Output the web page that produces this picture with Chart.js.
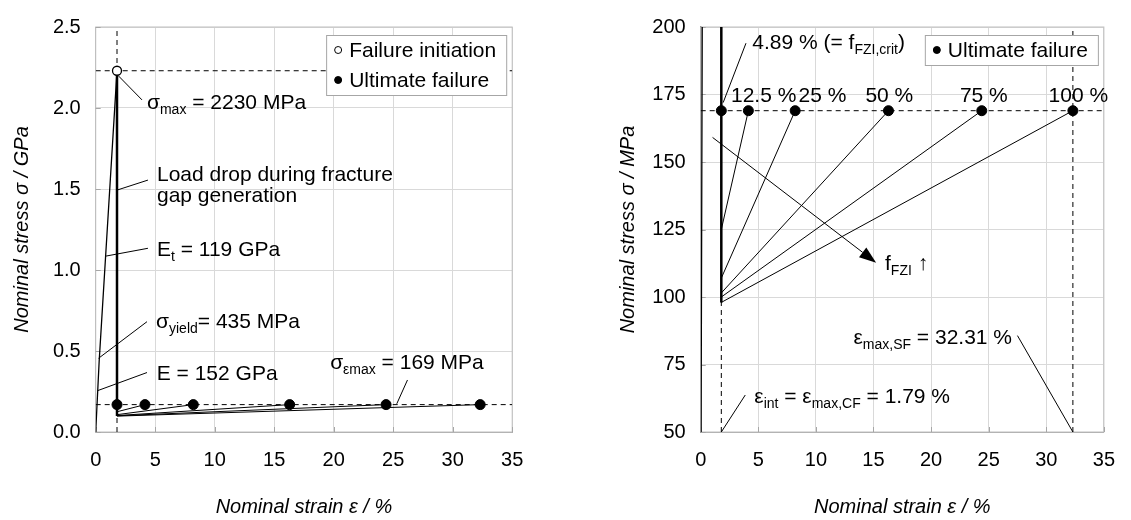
<!DOCTYPE html>
<html>
<head>
<meta charset="utf-8">
<script src="https://cdn.jsdelivr.net/npm/chart.js@4.4.0/dist/chart.umd.min.js"></script>
<style>
  html, body { margin: 0; padding: 0; background: #fff; }
  body { width: 1131px; height: 520px; position: relative; overflow: hidden; }
  #leftChart { position: absolute; left: 0; top: 0; }
  #rightChart { position: absolute; left: 600px; top: 0; }
</style>
</head>
<body>
<canvas id="leftChart" width="565" height="520"></canvas>
<canvas id="rightChart" width="531" height="520"></canvas>
<script>
// values (strain in %, stress in MPa)
const strainInit = 1.79;
const strainMaxSF = 32.31;
const stressMax = 2230;
const stressUlt = 169;
const elasticStrain = [0, 0.29, 1.79];
const elasticStress = [0, 435, 2230];
const dropStress = [2230, 98];
const fziLabels = ['4.89 %', '12.5 %', '25 %', '50 %', '75 %', '100 %'];
const failStrain = [1.79, 4.14, 8.2, 16.3, 24.4, 32.31];
const failStress = [169, 169, 169, 169, 169, 169];
const startStress = [98, 125, 107, 101.5, 100, 98];

const FONT = '"Liberation Sans", Arial, sans-serif';
const FS = 20;   // tick labels and axis titles
const NS = 21;   // notes and legend

const pts = (xs, ys, k) => xs.map((x, i) => ({ x: x, y: ys[i] * k }));

function drawRich(ctx, x, y, parts) {
  let cx = x;
  parts.forEach(([t, sub]) => {
    const size = sub ? Math.round(NS * 0.65) : NS;
    ctx.font = (sub === 2 ? 'bold ' + NS : size) + 'px ' + FONT;
    ctx.fillText(t, cx, sub === 1 ? y + 5 : y);
    cx += ctx.measureText(t).width;
  });
}

const notesPlugin = {
  id: 'notes',
  beforeDatasetsDraw(chart) {
    const { ctx, chartArea: a } = chart;
    ctx.save();
    ctx.strokeStyle = '#bfbfbf';
    ctx.lineWidth = 1;
    ctx.strokeRect(a.left, a.top, a.right - a.left, a.bottom - a.top);
    // small inside tick marks
    ctx.strokeStyle = '#a6a6a6';
    ctx.beginPath();
    chart.scales.x.ticks.forEach(t => {
      const x = Math.round(chart.scales.x.getPixelForValue(t.value)) + 0.5;
      ctx.moveTo(x, a.bottom);
      ctx.lineTo(x, a.bottom - 5);
    });
    chart.scales.y.ticks.forEach(t => {
      const y = Math.round(chart.scales.y.getPixelForValue(t.value)) + 0.5;
      ctx.moveTo(a.left, y);
      ctx.lineTo(a.left + 5, y);
    });
    ctx.stroke();
    ctx.restore();
  },
  afterDatasetsDraw(chart, args, opts) {
    const { ctx } = chart;
    const sx = chart.scales.x, sy = chart.scales.y;
    const px = (p) => [sx.getPixelForValue(p[0]), sy.getPixelForValue(p[1])];
    ctx.save();
    ctx.fillStyle = '#000';
    ctx.strokeStyle = '#000';
    ctx.lineWidth = 1;
    ctx.textBaseline = 'alphabetic';
    (opts.leaders || []).forEach(l => {
      const a = px(l[0]), b = px(l[1]);
      ctx.beginPath();
      ctx.moveTo(a[0], a[1]);
      ctx.lineTo(b[0], b[1]);
      ctx.stroke();
    });
    (opts.arrows || []).forEach(l => {
      const a = px(l[0]), b = px(l[1]);
      const ang = Math.atan2(b[1] - a[1], b[0] - a[0]);
      const len = 17, w = 6;
      const bx = b[0] - len * Math.cos(ang), by = b[1] - len * Math.sin(ang);
      ctx.beginPath();
      ctx.moveTo(a[0], a[1]);
      ctx.lineTo(bx, by);
      ctx.stroke();
      ctx.beginPath();
      ctx.moveTo(b[0], b[1]);
      ctx.lineTo(bx + w * Math.sin(ang), by - w * Math.cos(ang));
      ctx.lineTo(bx - w * Math.sin(ang), by + w * Math.cos(ang));
      ctx.closePath();
      ctx.fill();
    });
    (opts.texts || []).forEach(t => {
      const p = px(t[0]);
      drawRich(ctx, p[0], p[1], t[1]);
    });
    ctx.restore();
  },
  afterDraw(chart, args, opts) {
    const items = opts.legend || [];
    if (!items.length) return;
    const { ctx, chartArea: a } = chart;
    ctx.save();
    ctx.font = NS + 'px ' + FONT;
    const tw = Math.max(...items.map(it => ctx.measureText(it.text).width));
    const rowH = 30, padL = 12, gap = 11, padR = 10;
    const w = padL + gap + tw + padR, h = rowH * items.length;
    const left = a.right - 6 - w, top = a.top + 8;
    ctx.fillStyle = '#fff';
    ctx.fillRect(left, top, w, h);
    ctx.strokeStyle = '#a6a6a6';
    ctx.lineWidth = 1;
    ctx.strokeRect(left + 0.5, top + 0.5, w, h);
    items.forEach((it, i) => {
      const cy = top + rowH * i + rowH / 2;
      ctx.beginPath();
      ctx.arc(left + padL, cy, it.r, 0, Math.PI * 2);
      ctx.fillStyle = it.fill;
      ctx.fill();
      ctx.strokeStyle = '#000';
      ctx.lineWidth = 1;
      ctx.stroke();
      ctx.fillStyle = '#000';
      ctx.textBaseline = 'middle';
      ctx.fillText(it.text, left + padL + gap, cy + 1);
    });
    ctx.restore();
  }
};

function lineSet(data, width, dash) {
  return {
    data: data, showLine: true, pointRadius: 0, borderColor: '#000',
    borderWidth: width, borderDash: dash || [], fill: false, tension: 0
  };
}

function makeChart(canvasId, o) {
  const k = o.k;
  const datasets = [];
  datasets.push({
    data: pts(failStrain, failStress, k), showLine: false, pointRadius: 5,
    pointBackgroundColor: '#000', pointBorderColor: '#000', pointBorderWidth: 1
  });
  if (o.showInit) {
    datasets.push({
      data: [{ x: strainInit, y: stressMax * k }], showLine: false, pointRadius: 4.5,
      pointBackgroundColor: '#fff', pointBorderColor: '#000', pointBorderWidth: 1.3
    });
  }
  datasets.push(lineSet(pts([strainInit, strainInit], dropStress, k), 2.5));
  datasets.push(lineSet(pts(elasticStrain, elasticStress, k), 1.3));
  failStrain.forEach((x, i) => {
    datasets.push(lineSet([{ x: strainInit, y: startStress[i] * k }, { x: x, y: failStress[i] * k }], 1));
  });
  o.dashed.forEach(d => datasets.push(lineSet(d, 1, [5, 4])));

  return new Chart(document.getElementById(canvasId), {
    type: 'scatter',
    data: { datasets: datasets },
    options: {
      responsive: false,
      animation: false,
      layout: { padding: { top: 15.5, right: o.padRight, left: 0, bottom: 0 } },
      plugins: {
        legend: { display: false },
        tooltip: { enabled: false },
        notes: { leaders: o.leaders, arrows: o.arrows, texts: o.texts, legend: o.legend }
      },
      scales: {
        x: {
          min: 0, max: 35,
          afterFit: s => { s.height = 88; },
          ticks: { stepSize: 5, color: '#000', padding: 16, font: { family: FONT, size: FS } },
          grid: { color: '#d9d9d9', drawTicks: false },
          border: { color: '#a6a6a6' },
          title: {
            display: true, text: 'Nominal strain ε / %', color: '#000',
            font: { family: FONT, size: FS, style: 'italic' }, padding: { top: 20, bottom: 1 }
          }
        },
        y: {
          min: o.yMin, max: o.yMax,
          afterFit: s => { s.width = o.yWidth; },
          ticks: {
            stepSize: o.yStep, color: '#000', padding: 15, font: { family: FONT, size: FS },
            callback: v => o.yFmt(v)
          },
          grid: { color: '#d9d9d9', drawTicks: false },
          border: { color: o.yBorder, width: o.yBorderW },
          title: {
            display: true, text: o.yTitle, color: '#000',
            font: { family: FONT, size: FS, style: 'italic' }, padding: { top: o.yTitlePad, bottom: 0 }
          }
        }
      }
    },
    plugins: [notesPlugin]
  });
}

// left panel: stress in GPa
const g = 1 / 1000;
makeChart('leftChart', {
  k: g, yMin: 0, yMax: 2.5, yStep: 0.5, yFmt: v => v.toFixed(1), yWidth: 95.7, padRight: 52.8,
  yTitle: 'Nominal stress σ / GPa', yTitlePad: 10, yBorder: '#bfbfbf', yBorderW: 1, showInit: true,
  dashed: [
    [{ x: 0, y: stressMax * g }, { x: 35, y: stressMax * g }],
    [{ x: strainInit, y: 0 }, { x: strainInit, y: 2.5 }],
    [{ x: 0, y: stressUlt * g }, { x: 35, y: stressUlt * g }]
  ],
  leaders: [
    [[1.93, 2.197], [3.89, 2.05]],
    [[1.87, 1.495], [4.39, 1.555]],
    [[0.87, 1.086], [4.39, 1.134]],
    [[0.24, 0.455], [4.31, 0.681]],
    [[0.15, 0.255], [4.31, 0.367]],
    [[26.2, 0.321], [25.3, 0.174]]
  ],
  texts: [
    [[4.31, 1.993], [['σ'], ['max', 1], [' = 2230 MPa']]],
    [[5.15, 1.549], [['Load drop during fracture']]],
    [[5.15, 1.422], [['gap generation']]],
    [[5.15, 1.086], [['E'], ['t', 1], [' = 119 GPa']]],
    [[5.07, 0.641], [['σ'], ['yield', 1], ['= 435 MPa']]],
    [[5.13, 0.321], [['E = 152 GPa']]],
    [[19.7, 0.391], [['σ'], ['εmax', 1], [' = 169 MPa']]]
  ],
  legend: [
    { text: 'Failure initiation', fill: '#fff', r: 3.5 },
    { text: 'Ultimate failure', fill: '#000', r: 3.5 }
  ]
});

// right panel: stress in MPa
makeChart('rightChart', {
  k: 1, yMin: 50, yMax: 200, yStep: 25, yFmt: v => String(v), yWidth: 100.7, padRight: 14,
  yTitle: 'Nominal stress σ / MPa', yTitlePad: 16, yBorder: '#7f7f7f', yBorderW: 1.5, showInit: false,
  dashed: [
    [{ x: 0, y: stressUlt }, { x: 35, y: stressUlt }],
    [{ x: strainInit, y: 50 }, { x: strainInit, y: 200 }],
    [{ x: strainMaxSF, y: 50 }, { x: strainMaxSF, y: 200 }]
  ],
  leaders: [
    [[1.95, 172], [3.93, 194]],
    [[27.5, 85.7], [strainMaxSF, 50]],
    [[strainInit, 50], [3.87, 63.7]]
  ],
  arrows: [[[1.03, 159.1], [15.23, 112.7]]],
  texts: [
    [[4.48, 191.9], [['4.89 % (= f'], ['FZI,crit', 1], [')']]],
    [[2.63, 172.4], [[fziLabels[1]]]],
    [[8.5, 172.4], [[fziLabels[2]]]],
    [[14.3, 172.4], [[fziLabels[3]]]],
    [[22.5, 172.4], [[fziLabels[4]]]],
    [[30.2, 172.4], [[fziLabels[5]]]],
    [[16.0, 110.1], [['f'], ['FZI', 1], [' ↑', 2]]],
    [[13.26, 82.5], [['ε'], ['max,SF', 1], [' = 32.31 %']]],
    [[4.65, 60.9], [['ε'], ['int', 1], [' = ε'], ['max,CF', 1], [' = 1.79 %']]]
  ],
  legend: [
    { text: 'Ultimate failure', fill: '#000', r: 3.5 }
  ]
});
</script>
</body>
</html>
